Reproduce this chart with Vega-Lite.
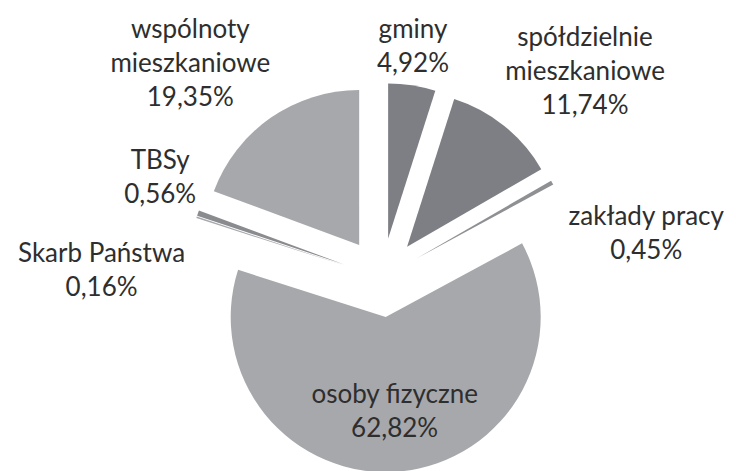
{
  "$schema": "https://vega.github.io/schema/vega-lite/v6.json",
  "width": 736,
  "height": 471,
  "autosize": {"type": "fit", "contains": "padding"},
  "padding": 0,
  "background": "white",
  "config": {"view": {"stroke": null}},
  "data": {
    "values": [
      {"order": 1, "name": "gminy", "share": 4.92},
      {"order": 2, "name": "spółdzielnie\nmieszkaniowe", "share": 11.74},
      {"order": 3, "name": "zakłady pracy", "share": 0.45},
      {"order": 4, "name": "osoby fizyczne", "share": 62.82},
      {"order": 5, "name": "Skarb Państwa", "share": 0.16},
      {"order": 6, "name": "TBSy", "share": 0.56},
      {"order": 7, "name": "wspólnoty\nmieszkaniowe", "share": 19.35}
    ]
  },
  "transform": [
    {"window": [{"op": "sum", "field": "share", "as": "cum"}], "sort": [{"field": "order"}], "frame": [null, 0]},
    {"calculate": "datum.cum - datum.share", "as": "start"},
    {"calculate": "(datum.cum - datum.share / 2) / 100 * 2 * PI", "as": "mid"},
    {"calculate": "0.258 * sin(datum.mid)", "as": "ex"},
    {"calculate": "0.258 * cos(datum.mid)", "as": "ey"},
    {"calculate": "datum.name + '\\n' + replace(format(datum.share, '.2f'), '.', ',') + '%'", "as": "label"},
    {"calculate": "split(datum.label, '\\n')", "as": "lines"},
    {"calculate": "length(datum.lines)", "as": "nlines"},
    {"calculate": "max(length(datum.lines[0]), length(datum.lines[1]), datum.nlines > 2 ? length(datum.lines[2]) : 0)", "as": "maxlen"},
    {"calculate": "datum.share > 50 ? 0 : sin(datum.mid) > 0.25 ? 1 : sin(datum.mid) < -0.25 ? -1 : 0", "as": "side"},
    {"calculate": "datum.share > 50 ? 0.5 : (cos(datum.mid) > 0.5 || datum.name == 'TBSy') ? 1 : 0", "as": "k"},
    {"calculate": "datum.share > 50 ? 0.258 + 0.62 : datum.k == 1 ? 0.258 + 1.04 : 0.258 + 1.08", "as": "lr"},
    {"calculate": "datum.lr * sin(datum.mid) + datum.side * datum.maxlen * 0.0413", "as": "lx"},
    {"calculate": "datum.lr * cos(datum.mid) + (datum.k * datum.nlines - 0.5) * 0.2194 - (datum.k == 0 ? 0.15 : 0)", "as": "ly"}
  ],
  "layer": [
    {
      "mark": {"type": "arc", "radius": 155},
      "encoding": {
        "theta": {"field": "start", "type": "quantitative", "stack": null, "scale": {"domain": [0, 100]}},
        "theta2": {"field": "cum"},
        "x": {"field": "ex", "type": "quantitative", "scale": {"domain": [-2.4645, 2.2839]}, "axis": null},
        "y": {"field": "ey", "type": "quantitative", "scale": {"domain": [-1.2323, 1.8065]}, "axis": null},
        "color": {
          "field": "name",
          "type": "nominal",
          "legend": null,
          "scale": {
            "domain": ["gminy", "spółdzielnie\nmieszkaniowe", "zakłady pracy", "osoby fizyczne", "Skarb Państwa", "TBSy", "wspólnoty\nmieszkaniowe"],
            "range": ["#7e7f84", "#7e7f84", "#8f9094", "#a7a8ac", "#a7a8ac", "#8a8b8f", "#a7a8ac"]
          }
        }
      }
    },
    {
      "mark": {
        "type": "text",
        "font": "Lato",
        "fontSize": 26,
        "lineHeight": 34,
        "lineBreak": "\n",
        "baseline": "middle",
        "align": "center",
        "color": "#2e2e2e"
      },
      "encoding": {
        "x": {"field": "lx", "type": "quantitative", "scale": {"domain": [-2.4645, 2.2839]}, "axis": null},
        "y": {"field": "ly", "type": "quantitative", "scale": {"domain": [-1.2323, 1.8065]}, "axis": null},
        "text": {"field": "label"}
      }
    }
  ]
}
